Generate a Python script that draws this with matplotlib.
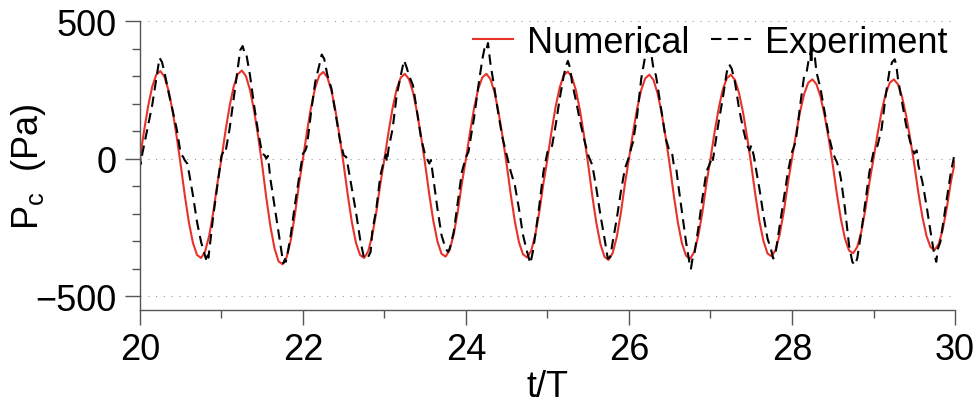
import numpy as np
import matplotlib
matplotlib.use("Agg")
import matplotlib.pyplot as plt
from matplotlib.ticker import MultipleLocator

# ---- data ----
# numerical solution, sampled every 0.05 t/T from 20 to 30 (one row per period)
t_num = np.linspace(20, 30, 201)
p_num = [
    0, 100, 190, 261, 305, 318, 298, 248, 174, 81, -23, -133, -231, -306, -350, -361, -337, -279, -194, -90,
    0, 101, 191, 262, 307, 320, 300, 250, 175, 81, -24, -142, -245, -325, -373, -384, -358, -297, -206, -96,
    0, 99, 188, 258, 302, 315, 295, 246, 172, 80, -23, -133, -231, -306, -350, -361, -337, -279, -194, -90,
    0, 97, 184, 253, 295, 308, 289, 241, 168, 78, -22, -131, -227, -301, -346, -356, -332, -275, -191, -89,
    0, 97, 184, 253, 295, 308, 289, 241, 168, 78, -23, -132, -229, -304, -348, -359, -335, -278, -193, -90,
    0, 100, 189, 259, 303, 316, 296, 247, 173, 80, -23, -136, -235, -311, -357, -368, -343, -285, -198, -92,
    0, 96, 182, 250, 292, 305, 286, 238, 167, 77, -23, -134, -233, -308, -353, -364, -339, -281, -196, -91,
    0, 96, 182, 250, 292, 305, 286, 238, 167, 77, -22, -131, -227, -300, -345, -355, -331, -274, -191, -89,
    0, 91, 172, 236, 276, 288, 270, 225, 157, 73, -22, -127, -220, -291, -334, -344, -321, -266, -185, -86,
    0, 91, 172, 236, 276, 288, 270, 225, 157, 73, -21, -123, -212, -281, -322, -332, -310, -257, -178, -83,
    -10,
]

# experiment (irregular samples, one row per period)
t_exp = [
    20.00, 20.01, 20.03, 20.05, 20.10, 20.15, 20.20, 20.24, 20.27, 20.30, 20.35, 20.40, 20.45, 20.50, 20.53,
    20.55, 20.58, 20.60, 20.65, 20.70, 20.75, 20.79, 20.81, 20.82, 20.84, 20.86, 20.90, 20.95,
    21.00, 21.03, 21.05, 21.10, 21.15, 21.20, 21.23, 21.26, 21.28, 21.30, 21.35, 21.40, 21.45, 21.50, 21.53,
    21.55, 21.57, 21.60, 21.65, 21.70, 21.74, 21.76, 21.78, 21.79, 21.82, 21.85, 21.90, 21.95,
    22.00, 22.03, 22.05, 22.10, 22.15, 22.20, 22.23, 22.26, 22.30, 22.35, 22.40, 22.45, 22.50, 22.53,
    22.55, 22.60, 22.65, 22.70, 22.75, 22.80, 22.83, 22.85, 22.90, 22.95,
    23.00, 23.02, 23.03, 23.05, 23.10, 23.15, 23.20, 23.24, 23.27, 23.30, 23.35, 23.40, 23.45, 23.50,
    23.55, 23.57, 23.60, 23.65, 23.70, 23.75, 23.78, 23.80, 23.85, 23.90, 23.95,
    24.00, 24.03, 24.05, 24.10, 24.15, 24.20, 24.23, 24.25, 24.27, 24.30, 24.35, 24.40, 24.45, 24.50,
    24.55, 24.60, 24.65, 24.70, 24.75, 24.79, 24.82, 24.85, 24.90, 24.95,
    25.00, 25.03, 25.05, 25.10, 25.15, 25.20, 25.23, 25.25, 25.28, 25.30, 25.35, 25.40, 25.45, 25.50,
    25.55, 25.60, 25.65, 25.70, 25.74, 25.77, 25.80, 25.85, 25.90, 25.95,
    26.00, 26.03, 26.05, 26.10, 26.15, 26.20, 26.24, 26.27, 26.30, 26.33, 26.35, 26.40, 26.45, 26.50,
    26.53, 26.55, 26.58, 26.60, 26.65, 26.70, 26.74, 26.76, 26.78, 26.80, 26.85, 26.90, 26.95,
    27.00, 27.02, 27.03, 27.05, 27.10, 27.15, 27.20, 27.23, 27.26, 27.30, 27.35, 27.40, 27.43, 27.45,
    27.48, 27.50, 27.53, 27.55, 27.60, 27.65, 27.70, 27.74, 27.77, 27.80, 27.85, 27.90, 27.95,
    28.00, 28.03, 28.05, 28.10, 28.15, 28.18, 28.20, 28.23, 28.26, 28.28, 28.30, 28.33, 28.35, 28.40,
    28.45, 28.50, 28.53, 28.55, 28.58, 28.60, 28.65, 28.70, 28.74, 28.77, 28.80, 28.85, 28.90, 28.95,
    29.00, 29.03, 29.05, 29.10, 29.15, 29.20, 29.23, 29.26, 29.28, 29.30, 29.35, 29.40, 29.45, 29.50,
    29.53, 29.55, 29.60, 29.65, 29.70, 29.74, 29.77, 29.79, 29.82, 29.85, 29.90, 29.95, 30.00,
]
p_exp = [
    10, -20, 20, 48, 121, 194, 290, 366, 351, 315, 242, 176, 109, 18, 6,
    -6, -18, -48, -133, -230, -303, -345, -365, -340, -360, -310, -206, -97,
    10, 30, 24, 109, 218, 327, 394, 409, 388, 388, 303, 194, 97, 18, 12,
    0, 10, -73, -170, -266, -345, -380, -365, -375, -330, -278, -170, -73,
    18, 30, 48, 170, 278, 339, 378, 363, 303, 254, 163, 73, 12, 6,
    -24, -109, -194, -291, -363, -357, -339, -266, -182, -61,
    0, 15, -12, 36, 109, 230, 303, 357, 333, 303, 266, 170, 73, 12,
    -18, -5, -73, -182, -278, -327, -339, -327, -266, -157, -48,
    6, 24, 61, 150, 260, 360, 405, 395, 420, 345, 254, 157, 73, 12,
    -48, -97, -182, -278, -339, -381, -339, -278, -170, -48,
    24, 30, 36, 121, 218, 303, 339, 355, 327, 278, 210, 135, 70, 12,
    -24, -109, -206, -291, -363, -357, -303, -218, -121, -36,
    6, 42, 61, 157, 290, 375, 405, 388, 327, 303, 266, 170, 73, 24,
    18, -24, -36, -85, -194, -303, -375, -400, -363, -351, -254, -145, -48,
    -12, 10, -5, 36, 133, 218, 315, 342, 327, 278, 182, 109, 73, 48,
    30, 48, 12, -24, -109, -206, -291, -327, -363, -339, -242, -145, -48,
    24, 48, 73, 194, 303, 315, 351, 388, 400, 369, 315, 278, 254, 170,
    85, 24, 0, -12, -42, -73, -182, -315, -375, -387, -363, -266, -157, -48,
    24, 36, 48, 109, 230, 327, 351, 361, 339, 290, 206, 121, 61, 18,
    30, -24, -85, -170, -266, -339, -375, -327, -303, -242, -145, -48, 24,
]

plt.rcParams["font.family"] = ["Liberation Sans", "DejaVu Sans"]
plt.rcParams["mathtext.default"] = "regular"

fig = plt.figure(figsize=(9.76, 4.10), dpi=100)
ax = fig.add_axes([0.1434, 0.2415, 0.8351, 0.7048])

ax.plot(t_num, p_num, color="#e8322a", lw=1.5, label="Numerical")
ax.plot(t_exp, p_exp, color="black", lw=1.5, dashes=(5, 3), label="Experiment")

ax.set_xlim(20, 30)
ax.set_ylim(-550, 500)
ax.xaxis.set_major_locator(MultipleLocator(2))
ax.xaxis.set_minor_locator(MultipleLocator(1))
ax.yaxis.set_major_locator(MultipleLocator(500))
ax.yaxis.set_minor_locator(MultipleLocator(100))

ax.grid(True, axis="y", which="major", color="#999999", lw=0.8, dashes=(1, 6))
ax.set_axisbelow(True)

for side in ("top", "right"):
    ax.spines[side].set_visible(False)
for side in ("left", "bottom"):
    ax.spines[side].set_color("#555555")
    ax.spines[side].set_linewidth(1.0)

ax.tick_params(which="both", direction="out", colors="#555555", labelcolor="black",
               labelsize=26, width=1.0)
ax.tick_params(which="major", length=11)
ax.tick_params(which="minor", length=5.5)
ax.tick_params(axis="x", pad=5)
ax.tick_params(axis="y", pad=6)

ax.set_xlabel("t/T", fontsize=26, labelpad=1)
ax.set_ylabel(r"$P_c$  (Pa)", fontsize=26)
ax.yaxis.set_label_coords(-0.113, 0.5)

ax.legend(loc="upper right", ncol=2, frameon=False, fontsize=26,
          handlelength=1.1, handletextpad=0.4, columnspacing=0.6,
          borderpad=0.1, borderaxespad=0.1, bbox_to_anchor=(1.0, 1.012))

fig.savefig("out.png", dpi=100)
